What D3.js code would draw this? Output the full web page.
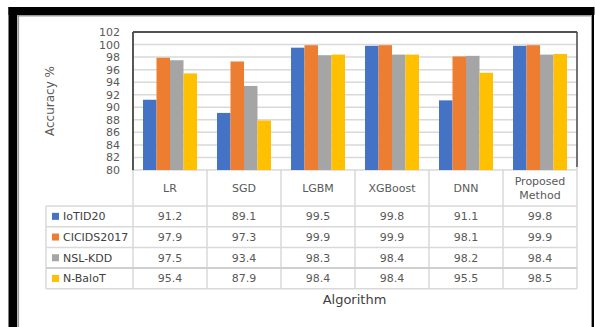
<!DOCTYPE html>
<html><head><meta charset="utf-8">
<script src="https://cdn.jsdelivr.net/npm/d3@7"></script>
<style>
html,body{margin:0;padding:0;background:#fff;}
svg{display:block;font-family:"DejaVu Sans",sans-serif;}
</style></head>
<body>
<svg id="c" width="595" height="327"></svg>
<script>
const categories = ["LR","SGD","LGBM","XGBoost","DNN","Proposed Method"];
const categoryLines = [["LR"],["SGD"],["LGBM"],["XGBoost"],["DNN"],["Proposed","Method"]];
const seriesNames = ["IoTID20","CICIDS2017","NSL-KDD","N-BaloT"];
const seriesColors = ["#4472C4","#ED7D31","#A5A5A5","#FFC000"];
const iotid20 = [91.2, 89.1, 99.5, 99.8, 91.1, 99.8];
const cicids2017 = [97.9, 97.3, 99.9, 99.9, 98.1, 99.9];
const nslkdd = [97.5, 93.4, 98.3, 98.4, 98.2, 98.4];
const nbalot = [95.4, 87.9, 98.4, 98.4, 95.5, 98.5];
const seriesValues = [iotid20, cicids2017, nslkdd, nbalot];
const valueLabels = [
  ["91.2","89.1","99.5","99.8","91.1","99.8"],
  ["97.9","97.3","99.9","99.9","98.1","99.9"],
  ["97.5","93.4","98.3","98.4","98.2","98.4"],
  ["95.4","87.9","98.4","98.4","95.5","98.5"]
];
const yTicks = [80,82,84,86,88,90,92,94,96,98,100,102];

const svg = d3.select("#c");
const L = 133, R = 577, T = 32, B = 170;

// outer frame
svg.append("rect").attr("x",8.5).attr("y",7).attr("width",586).attr("height",8).attr("fill","#000");
svg.append("rect").attr("x",8.5).attr("y",7).attr("width",8.5).attr("height",320).attr("fill","#000");
svg.append("rect").attr("x",17).attr("y",15).attr("width",575).attr("height",1.5).attr("fill","#9a9a9a");
svg.append("rect").attr("x",17.3).attr("y",15).attr("width",1.8).attr("height",312).attr("fill","#9a9a9a");
svg.append("rect").attr("x",591).attr("y",15).attr("width",1).attr("height",312).attr("fill","#9a9a9a");
svg.append("rect").attr("x",592).attr("y",7).attr("width",2).attr("height",320).attr("fill","#000");

const y = d3.scaleLinear().domain([80,102]).range([B,T]);
const x0 = d3.scaleBand().domain(categories).range([L,R]).padding(0);
const x1 = d3.scaleBand().domain(seriesNames).range([10, x0.bandwidth()-10]).padding(0);

// gridlines
svg.append("g").selectAll("line").data(yTicks).join("line")
  .attr("x1",L).attr("x2",R).attr("y1",d=>y(d)).attr("y2",d=>y(d))
  .attr("stroke","#d9d9d9").attr("stroke-width",1.5);

// bars
const groups = svg.append("g").selectAll("g").data(categories).join("g")
  .attr("transform",d=>`translate(${x0(d)},0)`);
groups.selectAll("rect").data((c,i)=>seriesNames.map((s,j)=>({s,j,v:seriesValues[j][i]}))).join("rect")
  .attr("x",d=>x1(d.s)).attr("width",x1.bandwidth())
  .attr("y",d=>y(d.v)).attr("height",d=>B-y(d.v))
  .attr("fill",d=>seriesColors[d.j]);

// plot border
svg.append("line").attr("x1",L).attr("x2",R).attr("y1",T).attr("y2",T).attr("stroke","#222").attr("stroke-width",1.3);
svg.append("line").attr("x1",R).attr("x2",R).attr("y1",T).attr("y2",B-3).attr("stroke","#444").attr("stroke-width",1.5);
svg.append("line").attr("x1",L).attr("x2",L).attr("y1",T).attr("y2",B+0.5).attr("stroke","#444").attr("stroke-width",1.8);

// y axis ticks
const yAxis = d3.axisLeft(y).tickValues(yTicks).tickSize(0).tickPadding(0);
const ga = svg.append("g").attr("transform",`translate(${L-13},0)`).call(yAxis);
ga.select(".domain").remove();
ga.selectAll("text").attr("font-family","DejaVu Sans").attr("font-size",11).attr("fill","#595959");

// y title
svg.append("text").attr("transform","translate(54,101) rotate(-90)")
  .attr("text-anchor","middle").attr("font-size",12).attr("fill","#595959").text("Accuracy %");

// data table
const rowTop = 206, rowH = 20.7, tableLeft = 46;
const lineColor = "#d9d9d9";
const tg = svg.append("g");
// header vertical lines
categories.forEach(c=>{
  tg.append("line").attr("x1",x0(c)).attr("x2",x0(c)).attr("y1",B).attr("y2",rowTop+rowH*4)
    .attr("stroke",lineColor).attr("stroke-width",1.5);
});
tg.append("line").attr("x1",R).attr("x2",R).attr("y1",B-3).attr("y2",rowTop+rowH*4)
  .attr("stroke",lineColor).attr("stroke-width",1.5);
tg.append("line").attr("x1",tableLeft).attr("x2",tableLeft).attr("y1",rowTop).attr("y2",rowTop+rowH*4)
  .attr("stroke",lineColor).attr("stroke-width",1.5);
for(let r=0;r<=4;r++){
  tg.append("line").attr("x1",tableLeft).attr("x2",R).attr("y1",rowTop+rowH*r).attr("y2",rowTop+rowH*r)
    .attr("stroke",r===3?"#cfcfcf":lineColor).attr("stroke-width",r===3?2:1.5);
}
// category labels
categories.forEach((c,i)=>{
  const lines = categoryLines[i];
  const cx = x0(c)+x0.bandwidth()/2;
  const cy = (B+rowTop)/2;
  lines.forEach((t,k)=>{
    tg.append("text").attr("x",cx).attr("y",cy+(k-(lines.length-1)/2)*14+4)
      .attr("text-anchor","middle").attr("font-size",11).attr("fill","#595959").text(t);
  });
});
// legend + values
seriesNames.forEach((s,j)=>{
  const cy = rowTop + rowH*j + rowH/2;
  tg.append("rect").attr("x",52).attr("y",cy-3.5).attr("width",7).attr("height",7).attr("fill",seriesColors[j]);
  tg.append("text").attr("x",63).attr("y",cy+4).attr("font-size",11).attr("fill","#404040").text(s);
  categories.forEach((c,i)=>{
    tg.append("text").attr("x",x0(c)+x0.bandwidth()/2).attr("y",cy+4)
      .attr("text-anchor","middle").attr("font-size",11).attr("fill","#595959").text(valueLabels[j][i]);
  });
});

// x title
svg.append("text").attr("x",354.5).attr("y",304).attr("text-anchor","middle")
  .attr("font-size",13).attr("fill","#404040").text("Algorithm");
</script>
</body></html>
